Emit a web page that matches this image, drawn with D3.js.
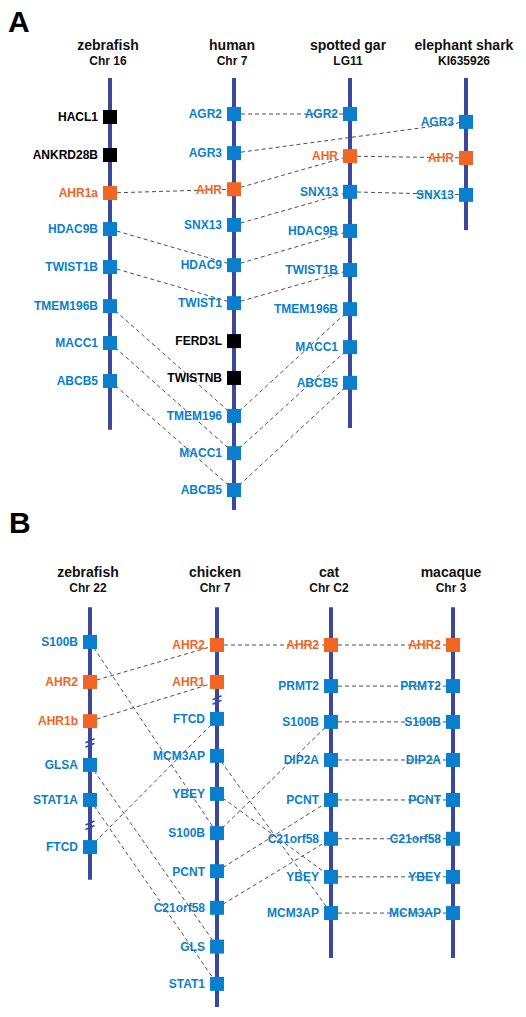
<!DOCTYPE html>
<html><head><meta charset="utf-8">
<script src="https://cdn.jsdelivr.net/npm/d3@7"></script>
<style>body{margin:0;background:#fff}svg{display:block;font-family:Arial,"Liberation Sans",sans-serif}</style>
</head><body>
<script>
// ---------- Panel A data ----------
const speciesA = ["zebrafish", "human", "spotted gar", "elephant shark"];
const chromA = ["Chr 16", "Chr 7", "LG11", "KI635926"];
const extentA = [[0.04, 9.4], [0.04, 11.53], [0.04, 9.35], [0.04, 4.09]];
const genesA_zebrafish = ["HACL1", "ANKRD28B", "AHR1a", "HDAC9B", "TWIST1B", "TMEM196B", "MACC1", "ABCB5"];
const slotsA_zebrafish = [1.08, 2.09, 3.10, 4.06, 5.07, 6.11, 7.09, 8.10];
const kindA_zebrafish = ["other", "other", "ahr", "syn", "syn", "syn", "syn", "syn"];
const genesA_human = ["AGR2", "AGR3", "AHR", "SNX13", "HDAC9", "TWIST1", "FERD3L", "TWISTNB", "TMEM196", "MACC1", "ABCB5"];
const slotsA_human = [1, 2.04, 3, 3.95, 5.02, 6.03, 7.04, 8.02, 9.03, 10.02, 11];
const kindA_human = ["syn", "syn", "ahr", "syn", "syn", "syn", "other", "other", "syn", "syn", "syn"];
const genesA_gar = ["AGR2", "AHR", "SNX13", "HDAC9B", "TWIST1B", "TMEM196B", "MACC1", "ABCB5"];
const slotsA_gar = [1.0, 2.12, 3.07, 4.11, 5.15, 6.19, 7.2, 8.15];
const kindA_gar = ["syn", "ahr", "syn", "syn", "syn", "syn", "syn", "syn"];
const genesA_shark = ["AGR3", "AHR", "SNX13"];
const slotsA_shark = [1.21, 2.17, 3.15];
const kindA_shark = ["syn", "ahr", "syn"];
const breaksA = [[], [], [], []];
const linksA = [
  ["zebrafish", "AHR1a", "human", "AHR"], ["zebrafish", "HDAC9B", "human", "HDAC9"],
  ["zebrafish", "TWIST1B", "human", "TWIST1"], ["zebrafish", "TMEM196B", "human", "TMEM196"],
  ["zebrafish", "MACC1", "human", "MACC1"], ["zebrafish", "ABCB5", "human", "ABCB5"],
  ["human", "AGR2", "spotted gar", "AGR2"], ["human", "AGR3", "elephant shark", "AGR3"],
  ["human", "AHR", "spotted gar", "AHR"], ["human", "SNX13", "spotted gar", "SNX13"],
  ["human", "HDAC9", "spotted gar", "HDAC9B"], ["human", "TWIST1", "spotted gar", "TWIST1B"],
  ["human", "TMEM196", "spotted gar", "TMEM196B"], ["human", "MACC1", "spotted gar", "MACC1"],
  ["human", "ABCB5", "spotted gar", "ABCB5"], ["spotted gar", "AHR", "elephant shark", "AHR"],
  ["spotted gar", "SNX13", "elephant shark", "SNX13"]
];

// ---------- Panel B data ----------
const speciesB = ["zebrafish", "chicken", "cat", "macaque"];
const chromB = ["Chr 22", "Chr 7", "Chr C2", "Chr 3"];
const extentB = [[0, 7.23], [0, 10.6], [0, 9.3], [0, 9.3]];
const genesB_zebrafish = ["S100B", "AHR2", "AHR1b", "GLSA", "STAT1A", "FTCD"];
const slotsB_zebrafish = [0.92, 1.98, 3.02, 4.18, 5.11, 6.36];
const kindB_zebrafish = ["syn", "ahr", "ahr", "syn", "syn", "syn"];
const genesB_chicken = ["AHR2", "AHR1", "FTCD", "MCM3AP", "YBEY", "S100B", "PCNT", "C21orf58", "GLS", "STAT1"];
const slotsB_chicken = [1, 1.98, 2.96, 3.94, 4.95, 5.99, 7.0, 7.97, 9.0, 9.99];
const kindB_chicken = ["ahr", "ahr", "syn", "syn", "syn", "syn", "syn", "syn", "syn", "syn"];
const genesB_cat = ["AHR2", "PRMT2", "S100B", "DIP2A", "PCNT", "C21orf58", "YBEY", "MCM3AP"];
const slotsB_cat = [1, 2.09, 3.04, 4.05, 5.11, 6.14, 7.15, 8.11];
const kindB_cat = ["ahr", "syn", "syn", "syn", "syn", "syn", "syn", "syn"];
const genesB_macaque = ["AHR2", "PRMT2", "S100B", "DIP2A", "PCNT", "C21orf58", "YBEY", "MCM3AP"];
const slotsB_macaque = [1, 2.09, 3.04, 4.05, 5.11, 6.14, 7.15, 8.11];
const kindB_macaque = ["ahr", "syn", "syn", "syn", "syn", "syn", "syn", "syn"];
const breaksB = [[3.6, 5.78], [2.46], [], []];
const linksB = [
  ["zebrafish", "S100B", "chicken", "S100B"], ["zebrafish", "AHR2", "chicken", "AHR2"],
  ["zebrafish", "AHR1b", "chicken", "AHR1"], ["zebrafish", "GLSA", "chicken", "GLS"],
  ["zebrafish", "STAT1A", "chicken", "STAT1"], ["zebrafish", "FTCD", "chicken", "FTCD"],
  ["chicken", "AHR2", "cat", "AHR2"], ["chicken", "MCM3AP", "cat", "MCM3AP"],
  ["chicken", "YBEY", "cat", "YBEY"], ["chicken", "S100B", "cat", "S100B"],
  ["chicken", "PCNT", "cat", "PCNT"], ["chicken", "C21orf58", "cat", "C21orf58"],
  ["cat", "AHR2", "macaque", "AHR2"], ["cat", "PRMT2", "macaque", "PRMT2"],
  ["cat", "S100B", "macaque", "S100B"], ["cat", "DIP2A", "macaque", "DIP2A"],
  ["cat", "PCNT", "macaque", "PCNT"], ["cat", "C21orf58", "macaque", "C21orf58"],
  ["cat", "YBEY", "macaque", "YBEY"], ["cat", "MCM3AP", "macaque", "MCM3AP"]
];

// ---------- drawing ----------
const W = 526, H = 1017;
const svg = d3.select("body").append("svg").attr("width", W).attr("height", H);
const color = d3.scaleOrdinal().domain(["syn", "ahr", "other"]).range(["#0a7fcd", "#f26522", "#000000"]);
const chromColor = "#3d479d";
const M = 14;

function build(genes, slots, kinds) {
  return genes.map((g, i) => ({ name: g, slot: slots[i], kind: kinds[i] }));
}

function drawPanel(cfg) {
  const g = svg.append("g");
  const x = d3.scaleOrdinal().domain(cfg.species).range(cfg.xs);
  const y = d3.scaleLinear().domain([0, 1]).range([cfg.y0, cfg.y0 + cfg.step]);
  const lookup = {};
  cfg.species.forEach((s, i) => {
    lookup[s] = {};
    cfg.genes[i].forEach(d => lookup[s][d.name] = d);
  });

  g.append("text").attr("x", cfg.letterX).attr("y", cfg.letterY)
    .attr("font-size", 30).attr("font-weight", "bold").text(cfg.letter);

  // titles
  cfg.species.forEach((s, i) => {
    g.append("text").attr("x", x(s) - 2).attr("y", cfg.titleY).attr("text-anchor", "middle")
      .attr("font-size", 14).attr("font-weight", "bold").attr("fill", "#111").text(s);
    g.append("text").attr("x", x(s) - 2).attr("y", cfg.titleY + 15).attr("text-anchor", "middle")
      .attr("font-size", 12).attr("font-weight", "bold").attr("fill", "#111").text(cfg.chrom[i]);
  });

  // chromosome bars
  g.selectAll(".chrom").data(cfg.species).join("line")
    .attr("x1", d => x(d)).attr("x2", d => x(d))
    .attr("y1", (d, i) => y(cfg.extent[i][0])).attr("y2", (d, i) => y(cfg.extent[i][1]))
    .attr("stroke", chromColor).attr("stroke-width", 4);

  // break marks
  cfg.species.forEach((s, i) => {
    cfg.breaks[i].forEach(b => {
      [-2.2, 2.2].forEach(off => {
        g.append("line")
          .attr("x1", x(s) - 4.5).attr("y1", y(b) + off + 2)
          .attr("x2", x(s) + 4.5).attr("y2", y(b) + off - 2)
          .attr("stroke", chromColor).attr("stroke-width", 1.6);
      });
    });
  });

  // links
  g.selectAll(".link").data(cfg.links).join("line")
    .attr("x1", d => x(d[0])).attr("y1", d => y(lookup[d[0]][d[1]].slot))
    .attr("x2", d => x(d[2])).attr("y2", d => y(lookup[d[2]][d[3]].slot))
    .attr("stroke", "#3a3a3a").attr("stroke-width", 0.9).attr("stroke-dasharray", "4,3");

  // markers + labels
  cfg.species.forEach((s, i) => {
    const gg = g.append("g");
    gg.selectAll("rect").data(cfg.genes[i]).join("rect")
      .attr("x", x(s) - M / 2).attr("y", d => y(d.slot) - M / 2)
      .attr("width", M).attr("height", M)
      .attr("fill", d => color(d.kind));
    gg.selectAll("text").data(cfg.genes[i]).join("text")
      .attr("x", x(s) - 12).attr("y", d => y(d.slot))
      .attr("dy", "0.36em").attr("text-anchor", "end")
      .attr("font-size", 12).attr("font-weight", "bold")
      .attr("fill", d => color(d.kind)).text(d => d.name);
  });
}

drawPanel({
  letter: "A", letterX: 8, letterY: 32, titleY: 50,
  species: speciesA, chrom: chromA, extent: extentA, breaks: breaksA, links: linksA,
  xs: [110, 234, 350, 466], y0: 76.4, step: 37.6,
  genes: [build(genesA_zebrafish, slotsA_zebrafish, kindA_zebrafish),
          build(genesA_human, slotsA_human, kindA_human),
          build(genesA_gar, slotsA_gar, kindA_gar),
          build(genesA_shark, slotsA_shark, kindA_shark)]
});

drawPanel({
  letter: "B", letterX: 9, letterY: 533, titleY: 577,
  species: speciesB, chrom: chromB, extent: extentB, breaks: breaksB, links: linksB,
  xs: [90, 217, 331, 453], y0: 607.3, step: 37.7,
  genes: [build(genesB_zebrafish, slotsB_zebrafish, kindB_zebrafish),
          build(genesB_chicken, slotsB_chicken, kindB_chicken),
          build(genesB_cat, slotsB_cat, kindB_cat),
          build(genesB_macaque, slotsB_macaque, kindB_macaque)]
});
</script>
</body></html>
